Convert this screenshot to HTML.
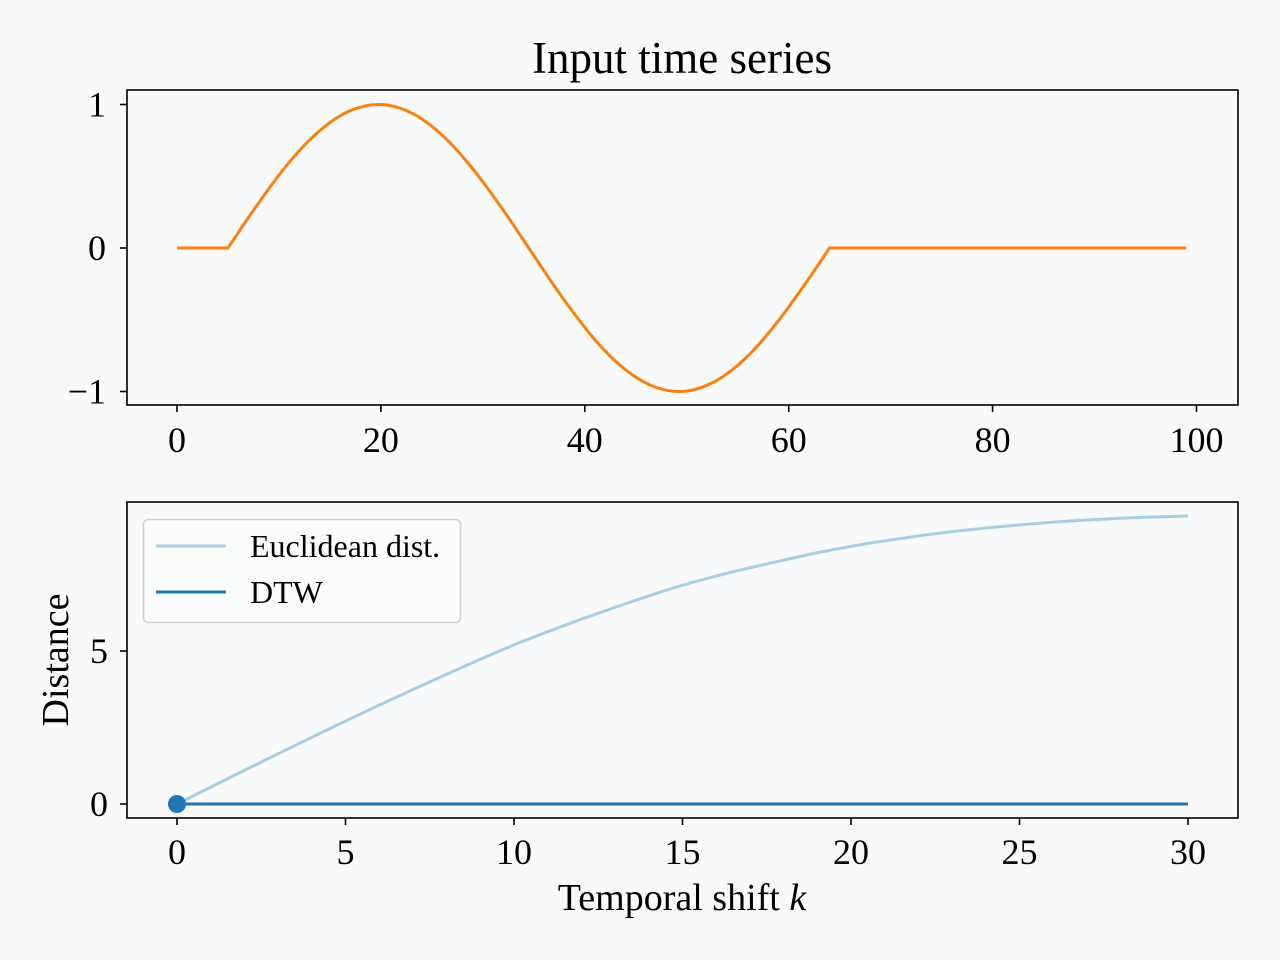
<!DOCTYPE html>
<html><head><meta charset="utf-8"><style>
html,body{margin:0;padding:0;background:#f8fafb;}
svg{display:block;font-family:"Liberation Serif","DejaVu Serif",serif;}
</style></head><body>
<svg id="fig" width="1280" height="960" xmlns="http://www.w3.org/2000/svg">
<rect width="1280" height="960" fill="#f8fafb"/>
<text x="682" y="73" font-size="45" text-anchor="middle">Input time series</text>
<g id="top"></g>
<g id="bot"></g>
<text x="682" y="910" font-size="38" text-anchor="middle">Temporal shift <tspan font-style="italic">k</tspan></text>
<text transform="translate(68,660) rotate(-90)" font-size="38" text-anchor="middle">Distance</text>
</svg>
<script>
// top series (time index, value)
const topT = [0,5,8,11,14,17,20,23,26,29,32,35,38,41,44,47,50,53,56,59,62,64,99];
const topV = [0,0,0.314,0.597,0.818,0.957,1.0,0.941,0.787,0.553,0.264,-0.053,-0.365,-0.640,-0.849,-0.972,-0.997,-0.920,-0.752,-0.506,-0.211,0,0];
const topXTicks = [0,20,40,60,80,100];
const topYTicks = [1,0,-1];
// bottom series
const shifts = [0,1,2,3,4,5,6,7,8,9,10,11,12,13,14,15,16,17,18,19,20,21,22,23,24,25,26,27,28,29,30];
const euclid = [0,0.55,1.10,1.64,2.18,2.71,3.23,3.74,4.24,4.73,5.20,5.63,6.04,6.43,6.80,7.15,7.45,7.72,7.97,8.21,8.42,8.60,8.76,8.90,9.02,9.12,9.21,9.28,9.34,9.38,9.41];
const dtw = [0,0,0,0,0,0,0,0,0,0,0,0,0,0,0,0,0,0,0,0,0,0,0,0,0,0,0,0,0,0,0];
const botXTicks = [0,5,10,15,20,25,30];
const botYTicks = [0,5];

const NS="http://www.w3.org/2000/svg";
function mk(p,tag,attrs){const e=document.createElementNS(NS,tag);for(const k in attrs)e.setAttribute(k,attrs[k]);p.appendChild(e);return e;}
function smooth(pts,straight){
  let d='M'+pts[0][0]+','+pts[0][1];
  for(let i=0;i<pts.length-1;i++){
    const p0=pts[Math.max(i-1,0)],p1=pts[i],p2=pts[i+1],p3=pts[Math.min(i+2,pts.length-1)];
    if(straight(i)){d+=' L'+p2[0]+','+p2[1];continue;}
    const a=straight(i-1)?p1:p0, b=straight(i+1)?p2:p3;
    const c1=[p1[0]+(p2[0]-a[0])/6,p1[1]+(p2[1]-a[1])/6];
    const c2=[p2[0]-(b[0]-p1[0])/6,p2[1]-(b[1]-p1[1])/6];
    d+=' C'+c1+' '+c2+' '+p2;
  }
  return d;
}

// top axes
const tx=v=>177+v*10.195, ty=v=>248-v*143.5;
const topG=document.getElementById('top');
let r=mk(topG,'rect',{x:127,y:90,width:1111,height:315,fill:'#f8fafb',stroke:'#000','stroke-width':1.6});


topXTicks.forEach(v=>{
  let l=mk(topG,'line',{x1:tx(v),x2:tx(v),y1:405,y2:412,stroke:'#000','stroke-width':1.6});
  
  
  let t=mk(topG,'text',{x:tx(v),y:452,'font-size':36,'text-anchor':'middle'});t.textContent=v;
  
  
});
topYTicks.forEach(v=>{
  let l=mk(topG,'line',{x1:120,x2:127,y1:ty(v),y2:ty(v),stroke:'#000','stroke-width':1.6});
  
  
  let t=mk(topG,'text',{x:106,y:ty(v)+12,'font-size':36,'text-anchor':'end'});t.textContent=v<0?'\u2212'+(-v):v;
  
  
});
const tp=topT.map((t,i)=>[tx(t),ty(topV[i])]);
let p=mk(topG,'path',{d:smooth(tp,i=>i<=0||i>=topT.length-2||(topV[i]===0&&topV[i+1]===0)),fill:'none',stroke:'#ff7f0e','stroke-width':3,'stroke-linejoin':'round'});



// bottom axes
const bx=v=>177+v*33.7, by=v=>804-v*30.6;
const botG=document.getElementById('bot');
r=mk(botG,'rect',{x:127,y:502,width:1111,height:316,fill:'#f8fafb',stroke:'#000','stroke-width':1.6});


botXTicks.forEach(v=>{
  let l=mk(botG,'line',{x1:bx(v),x2:bx(v),y1:818,y2:825,stroke:'#000','stroke-width':1.6});
  
  
  let t=mk(botG,'text',{x:bx(v),y:864,'font-size':36,'text-anchor':'middle'});t.textContent=v;
  
  
});
botYTicks.forEach(v=>{
  let l=mk(botG,'line',{x1:120,x2:127,y1:by(v),y2:by(v),stroke:'#000','stroke-width':1.6});
  
  
  let t=mk(botG,'text',{x:108,y:by(v)+12,'font-size':36,'text-anchor':'end'});t.textContent=v;
  
  
});
p=mk(botG,'path',{d:smooth(shifts.map((k,i)=>[bx(k),by(euclid[i])]),()=>false),fill:'none',stroke:'#a6cee3','stroke-width':3,'stroke-linejoin':'round'});


p=mk(botG,'polyline',{points:shifts.map((k,i)=>bx(k)+','+by(dtw[i])).join(' '),fill:'none',stroke:'#1f78b4','stroke-width':3,'stroke-linejoin':'round'});


let c=mk(botG,'circle',{cx:bx(shifts[0]),cy:by(dtw[0]),r:9,fill:'#1f78b4'});



// legend
const lg=mk(botG,'g',{});


mk(lg,'rect',{x:143.5,y:519.5,width:317,height:103,rx:5,fill:'#fbfcfc',stroke:'#d0d0d0','stroke-width':1.6});
[['Euclidean dist.','#a6cee3',546],['DTW','#1f78b4',592]].forEach(([n,col,y])=>{
  const e=mk(lg,'g',{});
  
  
  mk(e,'line',{x1:156,x2:226,y1:y,y2:y,stroke:col,'stroke-width':3});
  const t=mk(e,'text',{x:250,y:y+11,'font-size':32});t.textContent=n;
});
</script>
</body></html>
